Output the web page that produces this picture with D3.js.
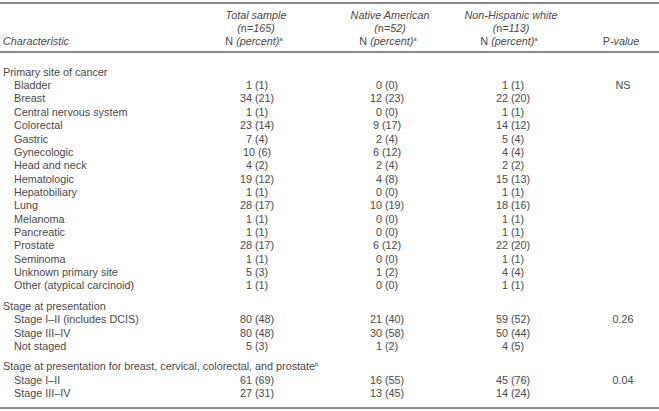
<!DOCTYPE html>
<html>
<head>
<meta charset="utf-8">
<script src="https://cdn.jsdelivr.net/npm/d3@7/dist/d3.min.js"></script>
<style>
  body { margin: 0; background: #fff; }
  svg text { font-family: "Liberation Sans", Arial, sans-serif; fill: #4a4a4a; }
</style>
</head>
<body>
<div id="chart"></div>
<script>
// group titles and row labels
var groupTitles = ["Primary site of cancer", "Stage at presentation",
  "Stage at presentation for breast, cervical, colorectal, and prostate"];
var groupNotes = ["", "", "b"];
var pValues = ["NS", "0.26", "0.04"];

var siteLabels = ["Bladder", "Breast", "Central nervous system", "Colorectal", "Gastric",
  "Gynecologic", "Head and neck", "Hematologic", "Hepatobiliary", "Lung", "Melanoma",
  "Pancreatic", "Prostate", "Seminoma", "Unknown primary site", "Other (atypical carcinoid)"];
var siteTotal    = [1, 34, 1, 23, 7, 10, 4, 19, 1, 28, 1, 1, 28, 1, 5, 1];
var siteTotalPct = [1, 21, 1, 14, 4, 6, 2, 12, 1, 17, 1, 1, 17, 1, 3, 1];
var siteNative    = [0, 12, 0, 9, 2, 6, 2, 4, 0, 10, 0, 0, 6, 0, 1, 0];
var siteNativePct = [0, 23, 0, 17, 4, 12, 4, 8, 0, 19, 0, 0, 12, 0, 2, 0];
var siteWhite    = [1, 22, 1, 14, 5, 4, 2, 15, 1, 18, 1, 1, 22, 1, 4, 1];
var siteWhitePct = [1, 20, 1, 12, 4, 4, 2, 13, 1, 16, 1, 1, 20, 1, 4, 1];

var stageLabels = ["Stage I\u2013II (includes DCIS)", "Stage III\u2013IV", "Not staged"];
var stageTotal    = [80, 80, 5];
var stageTotalPct = [48, 48, 3];
var stageNative    = [21, 30, 1];
var stageNativePct = [40, 58, 2];
var stageWhite    = [59, 50, 4];
var stageWhitePct = [52, 44, 5];

var subLabels = ["Stage I\u2013II", "Stage III\u2013IV"];
var subTotal    = [61, 27];
var subTotalPct = [69, 31];
var subNative    = [16, 13];
var subNativePct = [55, 45];
var subWhite    = [45, 14];
var subWhitePct = [76, 24];

var columns = ["total", "native", "white", "p"];
var colHeads = [
  ["Total sample", "165"],
  ["Native American", "52"],
  ["Non-Hispanic white", "113"]
];

var width = 659, height = 411;
var fontSize = 10.8;

var svg = d3.select("#chart").append("svg")
  .attr("width", width)
  .attr("height", height);

var x = d3.scaleOrdinal().domain(columns).range([257, 387, 513, 623]);
// one slot per row, groups separated by a bit more than half a slot
var y = d3.scaleLinear().domain([0, 1]).range([72, 72 + 13.35]);
var groupGap = 0.53;

// build rows
var groups = [
  { labels: siteLabels, t: siteTotal, tp: siteTotalPct, n: siteNative, np: siteNativePct, w: siteWhite, wp: siteWhitePct },
  { labels: stageLabels, t: stageTotal, tp: stageTotalPct, n: stageNative, np: stageNativePct, w: stageWhite, wp: stageWhitePct },
  { labels: subLabels, t: subTotal, tp: subTotalPct, n: subNative, np: subNativePct, w: subWhite, wp: subWhitePct }
];

var rows = [];
var slot = 0;
groups.forEach(function(g, gi) {
  if (gi > 0) slot += 1 + groupGap;
  rows.push({ label: groupTitles[gi], note: groupNotes[gi], slot: slot, header: true });
  g.labels.forEach(function(lab, i) {
    slot += 1;
    rows.push({
      label: lab, slot: slot, header: false,
      cells: [
        g.t[i] + " (" + g.tp[i] + ")",
        g.n[i] + " (" + g.np[i] + ")",
        g.w[i] + " (" + g.wp[i] + ")",
        i === 0 ? pValues[gi] : ""
      ]
    });
  });
});

// rules
var rules = [3, 52, 408];
svg.selectAll("line.rule").data(rules).enter().append("line")
  .attr("class", "rule")
  .attr("x1", 0).attr("x2", width)
  .attr("y1", function(d) { return d; })
  .attr("y2", function(d) { return d; })
  .attr("stroke", "#8a8a8a")
  .attr("stroke-width", 2);

// header
var head = svg.append("g").style("font-size", fontSize + "px");

head.append("text")
  .attr("x", 3).attr("y", 45)
  .style("font-style", "italic")
  .text("Characteristic");

var headX = [256, 390, 511];
colHeads.forEach(function(h, i) {
  var cx = headX[i];
  head.append("text")
    .attr("x", cx).attr("y", 19)
    .attr("text-anchor", "middle")
    .style("font-style", "italic")
    .text(h[0]);
  var t2 = head.append("text")
    .attr("x", cx).attr("y", 32)
    .attr("text-anchor", "middle")
    .style("font-style", "italic");
  t2.append("tspan").text("(");
  t2.append("tspan").style("font-style", "normal").text("n");
  t2.append("tspan").text("=" + h[1] + ")");
  var t3 = head.append("text")
    .attr("x", cx - 2).attr("y", 45)
    .attr("text-anchor", "middle");
  t3.append("tspan").text("N ");
  t3.append("tspan").style("font-style", "italic").text("(percent)");
  t3.append("tspan").attr("dy", -4).style("font-size", "6px").text("a");
});

var pt = head.append("text")
  .attr("x", 621).attr("y", 45)
  .attr("text-anchor", "middle");
pt.append("tspan").text("P");
pt.append("tspan").style("font-style", "italic").text("-value");

// body rows
var body = svg.append("g").style("font-size", fontSize + "px");

var rowG = body.selectAll("g.row").data(rows).enter().append("g")
  .attr("class", "row")
  .attr("transform", function(d) { return "translate(0," + y(d.slot) + ")"; });

var labels = rowG.append("text")
  .attr("x", function(d) { return d.header ? 3 : 14; })
  .attr("dy", "0.35em");
labels.append("tspan").text(function(d) { return d.label; });
labels.filter(function(d) { return d.note; })
  .append("tspan")
  .attr("dy", -4)
  .style("font-size", "6px")
  .text(function(d) { return d.note; });

rowG.filter(function(d) { return !d.header; })
  .selectAll("text.cell")
  .data(function(d) { return d.cells.map(function(c, i) { return { col: columns[i], v: c }; }); })
  .enter().append("text")
  .attr("class", "cell")
  .attr("x", function(d) { return x(d.col); })
  .attr("dy", "0.35em")
  .attr("text-anchor", "middle")
  .text(function(d) { return d.v; });
</script>
</body>
</html>
